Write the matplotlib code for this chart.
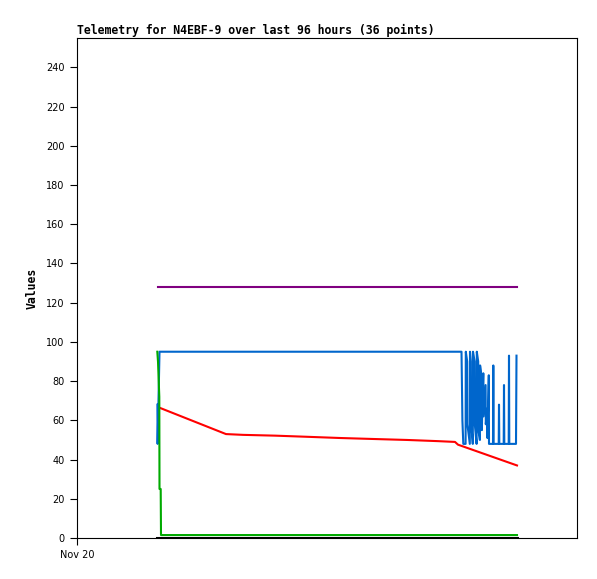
import matplotlib
matplotlib.use("Agg")
import matplotlib.pyplot as plt

# --- DATA (hours since Nov 20 00:00) --- #
blue_t = [16.08, 16.12, 16.5,
          76.90, 76.96, 77.08, 77.26,
          77.72, 77.76, 78.04, 78.08, 78.56, 78.60, 78.76, 78.80,
          79.16, 79.20, 79.52, 79.56, 79.92, 79.96, 80.24, 80.28,
          80.58, 80.62, 80.92, 80.96, 81.26, 81.30, 81.72, 81.76,
          82.04, 82.08, 82.36, 82.40,
          83.2, 83.26, 83.32, 84.34, 84.4, 84.46, 85.34, 85.4, 85.46,
          86.34, 86.4, 86.46, 87.8, 87.9]
blue_v = [68, 48, 95,
          95, 84, 60, 48,
          48, 95, 90, 58, 48, 95, 90, 60,
          48, 95, 90, 58, 48, 95, 90, 55,
          50, 88, 82, 55, 84, 62, 78, 58,
          66, 51, 83, 48,
          48, 88, 48, 48, 68, 48, 48, 78, 48,
          48, 93, 48, 48, 93]

red_t = [16.74, 29.8, 33.2, 39.6, 46.2, 52.6, 59.2, 66.0, 72.2, 75.6, 76.2, 88.0]
red_v = [66.2, 53.0, 52.6, 52.2, 51.6, 51.0, 50.5, 50.0, 49.4, 49.0, 47.6, 37.0]

green_t = [16.06, 16.2, 16.46, 16.5, 16.74, 16.8, 88.0]
green_v = [95, 90, 72, 25, 25, 1.5, 1.5]

purple_t = [16.2, 88.0]
purple_v = [128, 128]

black_t = [16.0, 88.0]
black_v = [0, 0]

yticks = list(range(0, 241, 20))
xtick_labels = ["Nov 20"]
# --------------------------------------- #

fig = plt.figure(figsize=(5.97, 5.79), dpi=100)
ax = fig.add_axes([77 / 597, 41 / 579, 500 / 597, 500 / 579])

lw = 1.5
ax.plot(purple_t, purple_v, color="#800080", lw=lw)
ax.plot(blue_t, blue_v, color="#0066cc", lw=lw)
ax.plot(red_t, red_v, color="#ff0000", lw=lw)
ax.plot(green_t, green_v, color="#00aa00", lw=lw)
ax.plot(black_t, black_v, color="black", lw=2.2)

ax.set_xlim(0, 100)
ax.set_ylim(0, 255)
ax.set_yticks(yticks)
ax.set_xticks([0])
ax.set_xticklabels(xtick_labels)
ax.tick_params(axis="both", direction="out", length=5, width=0.8, labelsize=7,
               pad=4, colors="black")

for sp in ax.spines.values():
    sp.set_linewidth(0.8)
    sp.set_color("black")

ax.set_ylabel("Values", fontfamily="DejaVu Sans Mono", fontweight="bold",
              fontsize=8.3, labelpad=5)
ax.set_title("Telemetry for N4EBF-9 over last 96 hours (36 points)",
             fontfamily="DejaVu Sans Mono", fontweight="bold", fontsize=8.3,
             loc="left", pad=3)

fig.savefig("out.png", dpi=100)
